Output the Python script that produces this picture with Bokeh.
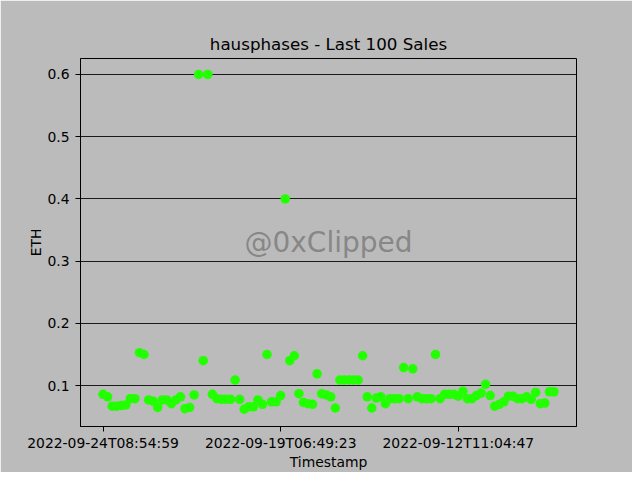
from bokeh.plotting import figure
from bokeh.models import Range1d, FixedTicker, Label
from bokeh.embed import file_html
from bokeh.resources import INLINE

title_text = "hausphases - Last 100 Sales"
watermark = "@0xClipped"

# sale order (categorical position of each timestamp)
sale_pos = list(range(100))
eth = [
    0.086, 0.082, 0.067, 0.067, 0.068, 0.069, 0.079, 0.079, 0.153, 0.150,
    0.077, 0.075, 0.065, 0.077, 0.077, 0.071, 0.077, 0.082, 0.063, 0.065,
    0.085, 0.600, 0.140, 0.600, 0.086, 0.079, 0.078, 0.078, 0.078, 0.109,
    0.078, 0.062, 0.066, 0.066, 0.077, 0.070, 0.150, 0.074, 0.074, 0.084,
    0.400, 0.140, 0.148, 0.087, 0.073, 0.071, 0.070, 0.119, 0.087, 0.085,
    0.082, 0.064, 0.109, 0.109, 0.109, 0.109, 0.109, 0.148, 0.082, 0.064,
    0.080, 0.082, 0.071, 0.079, 0.079, 0.079, 0.129, 0.079, 0.127, 0.082,
    0.079, 0.079, 0.079, 0.150, 0.079, 0.086, 0.086, 0.086, 0.083, 0.091,
    0.079, 0.079, 0.084, 0.088, 0.102, 0.084, 0.067, 0.070, 0.074, 0.083,
    0.083, 0.079, 0.079, 0.082, 0.078, 0.089, 0.071, 0.072, 0.090, 0.090,
]
x_tick_pos = [0, 39, 78]
x_tick_labels = ["2022-09-24T08:54:59", "2022-09-19T06:49:23", "2022-09-12T11:04:47"]
y_ticks = [0.1, 0.2, 0.3, 0.4, 0.5, 0.6]

BG = "#bbbbbb"
FONT = "DejaVu Sans"

p = figure(width=632, height=472, output_backend="svg", toolbar_location=None,
           x_range=Range1d(-4.95, 103.95), y_range=Range1d(0.0343, 0.6256),
           min_border_left=80, min_border_right=56, min_border_top=58, min_border_bottom=45)
p.background_fill_color = BG
p.border_fill_color = BG
p.outline_line_color = "black"
p.outline_line_width = 1

p.title.text = title_text
p.title.align = "center"
p.title.text_font = FONT
p.title.text_font_size = "16.7px"
p.title.text_font_style = "normal"
p.title.text_color = "black"
p.title.standoff = 9

p.scatter(sale_pos, eth, size=9.5, color="#22ff00", line_color=None)

p.xgrid.grid_line_color = None
p.ygrid.grid_line_color = "#1a1a1a"
p.ygrid.grid_line_width = 1
p.yaxis.ticker = FixedTicker(ticks=y_ticks)
p.xaxis.ticker = FixedTicker(ticks=x_tick_pos)
p.xaxis.major_label_overrides = {pos: lab for pos, lab in zip(x_tick_pos, x_tick_labels)}

for ax in (p.xaxis[0], p.yaxis[0]):
    ax.axis_line_color = "black"
    ax.major_tick_line_color = "black"
    ax.major_tick_out = 5
    ax.major_tick_in = 0
    ax.minor_tick_line_color = None
    ax.major_label_text_font = FONT
    ax.major_label_text_font_size = "13.9px"
    ax.major_label_text_color = "black"
    ax.axis_label_text_font = FONT
    ax.axis_label_text_font_size = "13.9px"
    ax.axis_label_text_font_style = "normal"
    ax.axis_label_text_color = "black"
    ax.axis_label_standoff = 0

p.xaxis.major_label_standoff = 3
p.yaxis.major_label_standoff = 6

p.xaxis.axis_label = "Timestamp"
p.yaxis.axis_label = "ETH"

p.add_layout(Label(x=49.5, y=0.33, text=watermark, text_align="center", text_baseline="middle",
                   text_font=FONT, text_font_size="28px", text_color="#808080", text_alpha=0.9))

open("out.html", "w").write(file_html(p, INLINE))
